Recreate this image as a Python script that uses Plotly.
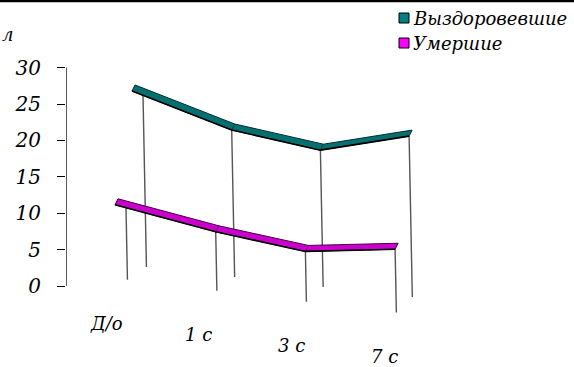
import plotly.graph_objects as go

# ---------------- data ----------------
categories = ["Д/о", "1 с", "3 с", "7 с"]
recovered = [23.6, 20.2, 18.8, 22.1]   # Выздоровевшие
died = [9.9, 8.1, 6.9, 8.7]            # Умершие
series_names = ["Выздоровевшие", "Умершие"]
tick_values = [0, 5, 10, 15, 20, 25, 30]

# ---------------- layout / pseudo-3D projection constants ----------------
W, H = 574, 367
LEFT = 66
PX = 7.28          # pixels per value unit
ZERO_PX = 286      # screen row of value 0 on the value axis


def vy(py):
    """screen row -> value units on the y axis"""
    return (ZERO_PX - py) / PX


FONT = "DejaVu Serif"
styles = {
    "Выздоровевшие": dict(x0=143, dx=88.7, f0=2.6, fs=1.37,
                          fill="#067070", edge="#012f2f", legend="#008080"),
    "Умершие": dict(x0=126, dx=89.7, f0=0.85, fs=1.5,
                    fill="#CC00CC", edge="#4a004a", legend="#FF00FF"),
}
RIB_DX, RIB_DY = 3.0, 6.0   # ribbon depth (px)
EXT = 11                    # ribbon extension left of first category (px)

fig = go.Figure()

# draw back series first
for name, vals in [("Выздоровевшие", recovered), ("Умершие", died)]:
    st = styles[name]
    xs = [st["x0"] + st["dx"] * i for i in range(len(vals))]
    floors = [st["f0"] - st["fs"] * i for i in range(len(vals))]
    tops = [f + v for f, v in zip(floors, vals)]

    # drop lines
    dx_, dy_ = [], []
    for x, f, t in zip(xs, floors, tops):
        tilt = 0.02 * (t - f) * PX
        dx_ += [x, x + tilt, None]
        dy_ += [t, f, None]
    fig.add_trace(go.Scatter(x=dx_, y=dy_, mode="lines",
                             line=dict(color="#555555", width=1.4),
                             hoverinfo="skip", showlegend=False))

    # ribbon bottom (front) edge
    bx = list(xs)
    by = list(tops)
    k = EXT / st["dx"]
    bx[0] = xs[0] - (xs[1] - xs[0]) * k
    by[0] = tops[0] - (tops[1] - tops[0]) * k
    tx = [x + RIB_DX for x in bx]
    ty = [y + RIB_DY / PX for y in by]
    fig.add_trace(go.Scatter(x=bx + tx[::-1] + [bx[0]], y=by + ty[::-1] + [by[0]],
                             mode="lines", fill="toself", fillcolor=st["fill"],
                             line=dict(color=st["edge"], width=1),
                             hoverinfo="skip", showlegend=False))
    # segment separators
    sx_, sy_ = [], []
    for i in range(1, len(bx) - 1):
        sx_ += [bx[i], tx[i], None]
        sy_ += [by[i], ty[i], None]
    fig.add_trace(go.Scatter(x=sx_, y=sy_, mode="lines",
                             line=dict(color=st["edge"], width=0.8),
                             hoverinfo="skip", showlegend=False))
    fig.add_trace(go.Scatter(x=bx, y=by, mode="lines",
                             line=dict(color="black", width=1.6),
                             hoverinfo="skip", showlegend=False))

    if name == "Умершие":
        for i, c in enumerate(categories):
            fig.add_annotation(x=xs[i] - 20 + 3 * i, y=floors[i] - 44 / PX, text=c,
                               showarrow=False, xanchor="center", yanchor="middle",
                               font=dict(family=FONT, size=18, color="black",
                                         style="italic"))

# value axis line
fig.add_shape(type="line", x0=LEFT, x1=LEFT, y0=0, y1=30, xref="x", yref="y",
              line=dict(color="black", width=1.3))

# legend
for j, name in enumerate(series_names):
    cy = 18 + 25 * j
    fig.add_shape(type="rect", x0=399, x1=409, y0=vy(cy + 5), y1=vy(cy - 5),
                  xref="x", yref="y", fillcolor=styles[name]["legend"],
                  line=dict(color="black", width=1))
    fig.add_annotation(x=411, y=vy(cy), text=name, showarrow=False,
                       xanchor="left", yanchor="middle",
                       font=dict(family=FONT, size=18, color="black", style="italic"))

# partly visible axis title letter
fig.add_annotation(x=-LEFT / (W - LEFT), y=1 - 35 / H, xref="paper", yref="paper",
                   text="л", showarrow=False, xanchor="left", yanchor="middle",
                   font=dict(family=FONT, size=18, color="black", style="italic"))

# top border
fig.add_shape(type="line", x0=-LEFT / (W - LEFT), x1=1, y0=1 - 1 / H, y1=1 - 1 / H,
              xref="paper", yref="paper", line=dict(color="black", width=2.5))

fig.update_layout(
    width=W, height=H,
    margin=dict(l=LEFT, r=0, t=0, b=0),
    paper_bgcolor="white", plot_bgcolor="white",
    showlegend=False,
    xaxis=dict(range=[LEFT, W], visible=False, fixedrange=True),
    yaxis=dict(range=[vy(H), vy(0)], tickvals=tick_values,
               ticks="outside", ticklen=8, tickwidth=1.3, tickcolor="black",
               ticklabelstandoff=12,
               tickfont=dict(family=FONT, size=20, color="black", style="italic"),
               showgrid=False, zeroline=False, showline=False, fixedrange=True),
)

fig.write_html("out.html", config={"displayModeBar": False},
               post_script="document.body.style.margin='0';"
                           "document.body.style.overflow='hidden';")
